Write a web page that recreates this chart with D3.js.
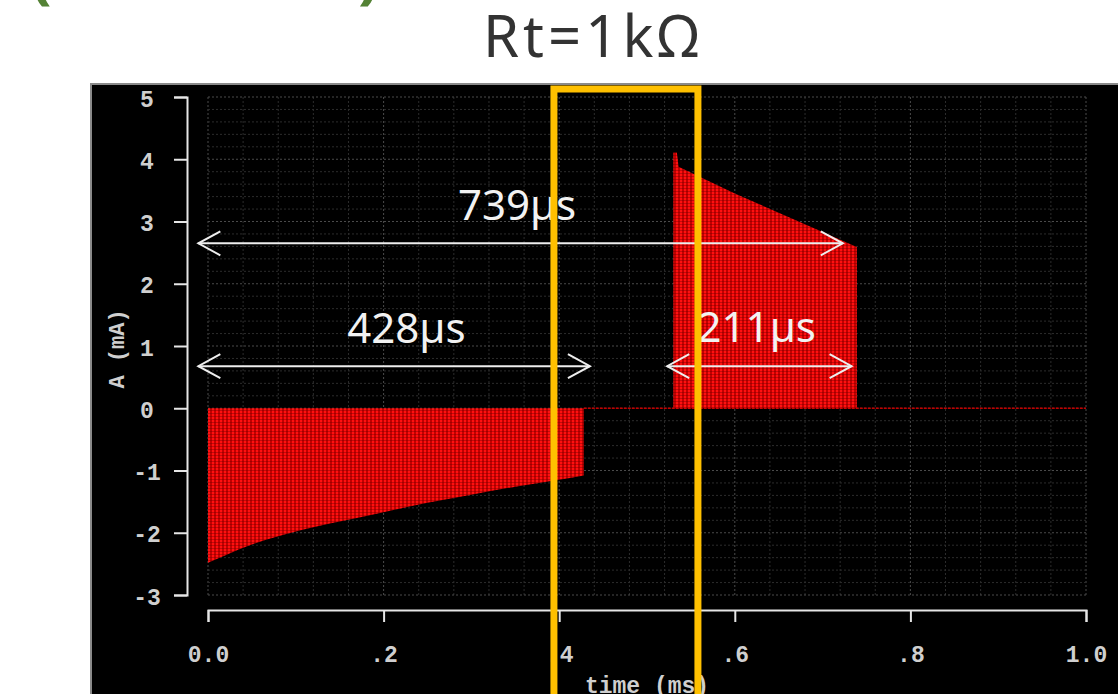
<!DOCTYPE html>
<html>
<head>
<meta charset="utf-8">
<script src="https://cdn.jsdelivr.net/npm/d3@7"></script>
<style>
  body { margin: 0; background: #fff; }
  svg { display: block; }
</style>
</head>
<body>
<svg id="chart" width="1118" height="694"></svg>
<script>
// tick values / labels
const xTickValues = [0, 0.2, 0.4, 0.6, 0.8, 1.0];
const xTickLabels = ["0.0", ".2", ".4", ".6", ".8", "1.0"];
const yTickValues = [-3, -2, -1, 0, 1, 2, 3, 4, 5];
const yTickLabels = ["-3", "-2", "-1", "0", "1", "2", "3", "4", "5"];

// envelope of the negative burst (time ms, current mA)
const negTime = [0, 0.02, 0.05, 0.1, 0.15, 0.2, 0.25, 0.3, 0.35, 0.4, 0.428];
const negAmp  = [-2.48, -2.36, -2.19, -1.98, -1.82, -1.67, -1.52, -1.39, -1.26, -1.15, -1.08];

// envelope of the positive burst
const posTime = [0.530, 0.534, 0.536, 0.6, 0.65, 0.7, 0.739];
const posAmp  = [4.11, 4.11, 3.88, 3.45, 3.14, 2.83, 2.59];

// flat trace after the first burst
const zeroTime = [0.428, 1.0];
const zeroAmp  = [0, 0];

// duration annotations
const spanLabels = ["739\u00b5s", "428\u00b5s", "211\u00b5s"];
const spanStart  = [-0.011, -0.011, 0.523];
const spanEnd    = [0.723, 0.435, 0.733];
const spanLevel  = [2.65, 0.675, 0.675];
const spanTextX  = [0.352, 0.226, 0.625];
const spanTextY  = [3.02, 1.05, 1.06];

// highlighted window
const boxStart = 0.394, boxEnd = 0.558;

const svg = d3.select("#chart");
const W = 1118, H = 694;

const x = d3.scaleLinear().domain([0, 1]).range([208, 1086]);
const y = d3.scaleLinear().domain([-3, 5]).range([595, 97]);

// green brackets cut off at the top
svg.append("text").attr("x", 30).attr("y", -4)
  .attr("font-family", "Noto Sans").attr("font-weight", "bold")
  .attr("font-size", 64).attr("fill", "#548235").text("(");
svg.append("text").attr("x", 358).attr("y", -4)
  .attr("font-family", "Noto Sans").attr("font-weight", "bold")
  .attr("font-size", 64).attr("fill", "#548235").text(")");

svg.append("text")
  .attr("x", 593).attr("y", 57)
  .attr("text-anchor", "middle")
  .attr("font-family", "Noto Sans")
  .attr("font-size", 58)
  .attr("letter-spacing", 4)
  .attr("fill", "#333")
  .text("Rt=1k\u03a9");

// black scope panel
svg.append("rect")
  .attr("x", 91).attr("y", 84)
  .attr("width", W - 90).attr("height", H - 83)
  .attr("fill", "#000")
  .attr("stroke", "#8a8a8a").attr("stroke-width", 2);

// texture for the dense oscillation
const defs = svg.append("defs");
const pat = defs.append("pattern")
  .attr("id", "osc")
  .attr("patternUnits", "userSpaceOnUse")
  .attr("width", 4).attr("height", 3);
pat.append("rect").attr("width", 4).attr("height", 3).attr("fill", "#c40000");
pat.append("rect").attr("width", 2).attr("height", 3).attr("fill", "#ff1010");
pat.append("rect").attr("y", 2).attr("width", 4).attr("height", 0.8)
  .attr("fill", "#6a0000").attr("opacity", 0.5);

// grid
const grid = svg.append("g");
const gx = d3.range(0, 25 + 1).map(i => i * 0.04);
const gy = d3.range(0, 40 + 1).map(i => -3 + i * 0.2);
grid.selectAll(".gv").data(gx).join("line")
  .attr("x1", d => x(d)).attr("x2", d => x(d))
  .attr("y1", y(5)).attr("y2", y(-3))
  .attr("stroke", (d, i) => i % 5 === 0 ? "#4a4a4a" : "#2c2c2c")
  .attr("stroke-dasharray", "2,2");
grid.selectAll(".gh").data(gy).join("line")
  .attr("y1", d => y(d)).attr("y2", d => y(d))
  .attr("x1", x(0)).attr("x2", x(1))
  .attr("stroke", (d, i) => i % 5 === 0 ? "#4a4a4a" : "#2c2c2c")
  .attr("stroke-dasharray", "2,2");

// traces
const plot = svg.append("g");
const negData = negTime.map((t, i) => ({ t, a: negAmp[i] }));
const posData = posTime.map((t, i) => ({ t, a: posAmp[i] }));
const zeroData = zeroTime.map((t, i) => ({ t, a: zeroAmp[i] }));

const area = d3.area().x(d => x(d.t)).y0(y(0)).y1(d => y(d.a));

plot.append("path").datum(zeroData)
  .attr("d", d3.line().x(d => x(d.t)).y(d => y(d.a)))
  .attr("stroke", "#c00000").attr("stroke-width", 1.6)
  .attr("stroke-dasharray", "3,1").attr("fill", "none");
plot.append("path").datum(negData)
  .attr("d", area.curve(d3.curveMonotoneX))
  .attr("fill", "url(#osc)");
plot.append("path").datum(posData)
  .attr("d", area.curve(d3.curveLinear))
  .attr("fill", "url(#osc)");

// axes
const axisColor = "#e6e6e6";
const labelFont = "Liberation Mono";

const gX = svg.append("g").attr("transform", "translate(0,610)");
gX.call(d3.axisBottom(x).tickValues(d3.range(0, 26).map(i => i * 0.04)).tickSize(6).tickFormat(""));
gX.call(d3.axisBottom(x).tickValues(xTickValues).tickSize(12).tickFormat((d, i) => xTickLabels[i]));
gX.selectAll(".domain").attr("stroke", axisColor).attr("stroke-width", 2);
gX.selectAll(".tick line").attr("stroke", axisColor).attr("stroke-width", 2);
gX.selectAll(".tick text")
  .attr("y", 36).attr("dy", "0.71em")
  .attr("fill", "#cfcfcf")
  .attr("font-family", labelFont).attr("font-weight", "bold").attr("font-size", 23);

const gY = svg.append("g").attr("transform", "translate(187,0)");
gY.call(d3.axisLeft(y).tickValues(d3.range(0, 41).map(i => -3 + i * 0.2)).tickSize(9).tickFormat(""));
gY.call(d3.axisLeft(y).tickValues(yTickValues).tickSize(13).tickFormat((d, i) => yTickLabels[i]));
gY.selectAll(".domain").attr("stroke", axisColor).attr("stroke-width", 2);
gY.selectAll(".tick line").attr("stroke", axisColor).attr("stroke-width", 2);
gY.selectAll(".tick text")
  .attr("x", -40).attr("dy", "0.4em")
  .attr("text-anchor", "middle")
  .attr("fill", "#cfcfcf")
  .attr("font-family", labelFont).attr("font-weight", "bold").attr("font-size", 23);

svg.append("text")
  .attr("transform", "translate(124,349) rotate(-90)")
  .attr("text-anchor", "middle")
  .attr("fill", "#cfcfcf")
  .attr("font-family", labelFont).attr("font-weight", "bold").attr("font-size", 22)
  .text("A (mA)");

svg.append("text")
  .attr("x", 647).attr("y", 693)
  .attr("text-anchor", "middle")
  .attr("fill", "#cfcfcf")
  .attr("font-family", labelFont).attr("font-weight", "bold").attr("font-size", 23)
  .text("time (ms)");

// duration arrows
const ann = svg.append("g");
spanLabels.forEach((lab, i) => {
  const x0 = x(spanStart[i]), x1 = x(spanEnd[i]), yy = y(spanLevel[i]);
  ann.append("line")
    .attr("x1", x0).attr("x2", x1).attr("y1", yy).attr("y2", yy)
    .attr("stroke", "#eee").attr("stroke-width", 2);
  ann.append("path")
    .attr("d", `M${x0 + 22},${yy - 12}L${x0},${yy}L${x0 + 22},${yy + 12}` +
               `M${x1 - 22},${yy - 12}L${x1},${yy}L${x1 - 22},${yy + 12}`)
    .attr("fill", "none").attr("stroke", "#eee").attr("stroke-width", 2);
  ann.append("text")
    .attr("x", x(spanTextX[i])).attr("y", y(spanTextY[i]))
    .attr("text-anchor", "middle")
    .attr("font-family", "Noto Sans").attr("font-size", 42)
    .attr("fill", "#f2f2f2")
    .text(lab);
});

// highlight box
svg.append("rect")
  .attr("x", x(boxStart)).attr("y", 89)
  .attr("width", x(boxEnd) - x(boxStart)).attr("height", 700)
  .attr("fill", "none")
  .attr("stroke", "#ffc000").attr("stroke-width", 7);
</script>
</body>
</html>
